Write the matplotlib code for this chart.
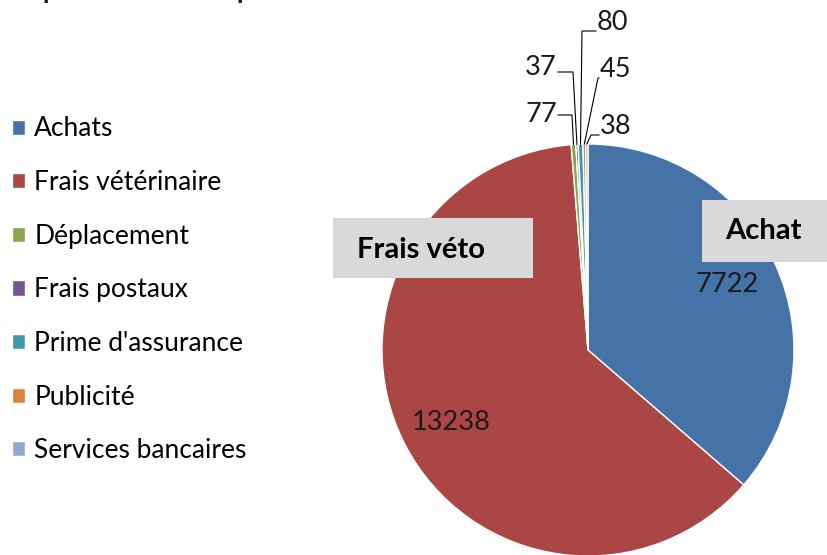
import numpy as np
import matplotlib.pyplot as plt
from matplotlib.patches import Rectangle

# data
categories = ['Achats', 'Frais vétérinaire', 'Déplacement', 'Frais postaux',
              "Prime d'assurance", 'Publicité', 'Services bancaires']
values = [7722, 13238, 77, 37, 80, 45, 38]
colors = ['#4572A7', '#AA4643', '#89A54E', '#71588F', '#4198AF', '#DB843D', '#93A9CF']

plt.rcParams['font.family'] = ['Lato', 'DejaVu Sans']

fig = plt.figure(figsize=(8.28, 5.55), dpi=100)
fig.patch.set_facecolor('white')

# axes in pixel units (y up)
ax = fig.add_axes([0, 0, 1, 1])

H = 555
cx, cy, r = 588, H - 350, 206
wedges, _ = ax.pie(values, colors=colors, startangle=90, counterclock=False,
                   center=(cx, cy), radius=r, frame=True,
                   wedgeprops=dict(edgecolor='white', linewidth=1))
ax.set_xlim(0, 828)
ax.set_ylim(0, H)
ax.set_aspect('equal')
ax.axis('off')

# title (mostly cut off at the top like the source)
fig.text(10, H + 2, 'Répartition des dépenses', transform=None,
         fontsize=20, fontweight='bold', va='baseline', color='#1a1a1a')

# big slice labels
fs = 19.5
ax.text(727, H - 285, str(values[0]), ha='center', va='center', fontsize=fs, color='#1a1a1a')
ax.text(451, H - 422, str(values[1]), ha='center', va='center', fontsize=fs, color='#1a1a1a')

# category callouts in grey boxes
ax.add_patch(Rectangle((702, H - 262), 130, 62, facecolor='#D9D9D9', edgecolor='none', zorder=3))
ax.text(763, H - 231, 'Achat', ha='center', va='center', fontsize=21,
        fontweight='bold', zorder=4)
ax.add_patch(Rectangle((333, H - 278), 200, 60, facecolor='#D9D9D9', edgecolor='none', zorder=3))
ax.text(421, H - 250, 'Frais véto', ha='center', va='center', fontsize=21,
        fontweight='bold', zorder=4)

# small slice labels with leader lines
label_pos = {2: (557, 115, 'right'), 3: (557, 68, 'right'), 4: (597, 22, 'left'),
             5: (600, 70, 'left'), 6: (600, 127, 'left')}
elbows = {2: (572, 115), 3: (573, 72), 4: (582, 31), 5: (598, 78), 6: (591, 135)}
for i, (tx, ty, ha) in label_pos.items():
    w = wedges[i]
    mid = np.deg2rad((w.theta1 + w.theta2) / 2)
    ex, ey = cx + r * np.cos(mid), cy + r * np.sin(mid)
    bx, by = elbows[i]
    x0 = tx + 1 if ha == 'right' else tx - 1
    ax.plot([x0, bx, ex], [H - by, H - by, ey], color='black', linewidth=0.8)
    ax.text(tx, H - ty, str(values[i]), ha=ha, va='center', fontsize=fs, color='#1a1a1a')

# legend
ax.legend(wedges, categories, loc='upper left', bbox_to_anchor=(-0.008, 1 - 98 / H),
          frameon=False, fontsize=19, handlelength=0.5, handleheight=0.5,
          handletextpad=0.35, labelspacing=1.085, borderaxespad=0.3)

fig.savefig('out.png', dpi=100)
